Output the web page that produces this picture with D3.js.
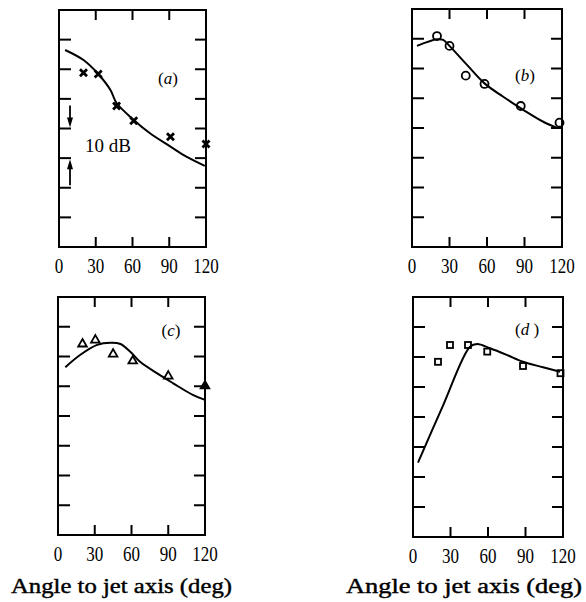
<!DOCTYPE html>
<html>
<head>
<meta charset="utf-8">
<script src="https://cdn.jsdelivr.net/npm/d3@7"></script>
<style>
  body { margin: 0; background: #fff; }
  svg { display: block; }
</style>
</head>
<body>
<div id="chart"></div>
<script>
// Axis ticks (angle in deg, level in dB, one tick step = 10 dB)
const angleTicks = [0, 30, 60, 90, 120];
const angleInnerTicks = [30, 60, 90];
const levelTicks = [10, 20, 30, 40, 50, 60, 70];

// (a) crosses + fitted curve
const aAngles = [20, 32, 47, 61, 91, 120];
const aLevels = [58.8, 58.4, 47.6, 42.6, 37.2, 34.8];
const aCurveAngles = [5, 20, 32, 42, 47, 61, 74, 91, 104, 119];
const aCurveLevels = [66.5, 63.1, 58.4, 53.0, 48.6, 42.9, 38.5, 33.9, 30.5, 27.4];

// (b) circles
const bAngles = [20, 30, 43, 58, 87, 118];
const bLevels = [70.9, 67.6, 57.6, 54.8, 47.4, 41.8];
const bCurveAngles = [4, 20, 25, 30, 44, 58, 73, 89, 105, 117];
const bCurveLevels = [67.6, 69.8, 69.6, 67.6, 61.2, 55.0, 50.5, 46.1, 42.1, 39.9];

// (c) triangles (last one filled)
const cAngles = [20, 30.5, 45, 61, 90, 120];
const cLevels = [64.2, 65.5, 60.8, 58.5, 53.4, 50.1];
const cCurveAngles = [6, 18, 32, 43, 51, 59, 67, 81, 94, 110, 120];
const cCurveLevels = [56.4, 60.5, 63.9, 64.6, 64.2, 61.6, 58.2, 54.3, 51.0, 47.1, 45.4];

// (d) squares
const dAngles = [20, 29.6, 44, 59.4, 88, 118];
const dLevels = [58.4, 64, 64, 61.8, 57.0, 54.6];
const dCurveAngles = [4, 24, 45.6, 51.4, 61.6, 75, 88, 104, 117.6];
const dCurveLevels = [24.8, 43.8, 63.4, 64.3, 62.9, 60.7, 58.4, 56.6, 55.1];

const width = 586;
const height = 602;
const serif = "Liberation Serif";

const svg = d3.select("#chart")
              .append("svg")
              .attr("width", width)
              .attr("height", height);

const panels = [
    { label: "a", left: 59, right: 206, top: 10, bottom: 247, marker: "cross",
      angles: aAngles, levels: aLevels, curveAngles: aCurveAngles, curveLevels: aCurveLevels,
      labelX: 168, labelY: 84 },
    { label: "b", left: 412, right: 562, top: 9, bottom: 247, marker: "circle",
      angles: bAngles, levels: bLevels, curveAngles: bCurveAngles, curveLevels: bCurveLevels,
      labelX: 525, labelY: 81 },
    { label: "c", left: 58, right: 205, top: 297, bottom: 535, marker: "triangle",
      angles: cAngles, levels: cLevels, curveAngles: cCurveAngles, curveLevels: cCurveLevels,
      labelX: 171, labelY: 336 },
    { label: "d", left: 413, right: 563, top: 297, bottom: 537, marker: "square",
      angles: dAngles, levels: dLevels, curveAngles: dCurveAngles, curveLevels: dCurveLevels,
      labelX: 527, labelY: 335 }
];

panels.forEach(p => {
    const x = d3.scaleLinear().domain([0, 120]).range([p.left, p.right]);
    const y = d3.scaleLinear().domain([0, 80]).range([p.bottom, p.top]);
    const g = svg.append("g");

    // frame
    g.append("rect")
     .attr("x", p.left).attr("y", p.top)
     .attr("width", p.right - p.left).attr("height", p.bottom - p.top)
     .attr("fill", "none").attr("stroke", "#000").attr("stroke-width", 2);

    // inward ticks on all four sides
    g.selectAll(".ytickL").data(levelTicks).enter().append("line")
     .attr("x1", p.left).attr("x2", p.left + 12)
     .attr("y1", d => y(d)).attr("y2", d => y(d))
     .attr("stroke", "#000").attr("stroke-width", 2);
    g.selectAll(".ytickR").data(levelTicks).enter().append("line")
     .attr("x1", p.right).attr("x2", p.right - 11)
     .attr("y1", d => y(d)).attr("y2", d => y(d))
     .attr("stroke", "#000").attr("stroke-width", 2);
    g.selectAll(".xtickT").data(angleInnerTicks).enter().append("line")
     .attr("x1", d => x(d)).attr("x2", d => x(d))
     .attr("y1", p.top).attr("y2", p.top + 10)
     .attr("stroke", "#000").attr("stroke-width", 2);
    g.selectAll(".xtickB").data(angleInnerTicks).enter().append("line")
     .attr("x1", d => x(d)).attr("x2", d => x(d))
     .attr("y1", p.bottom).attr("y2", p.bottom - 10)
     .attr("stroke", "#000").attr("stroke-width", 2);

    // tick labels (tall, narrow digits)
    g.selectAll(".xlab").data(angleTicks).enter().append("text")
     .attr("transform", d => `translate(${x(d)},${p.bottom + 26}) scale(0.85,1)`)
     .attr("text-anchor", "middle")
     .style("font-family", serif).style("font-size", "20px")
     .text(d => d);

    // fitted curve
    const curveData = p.curveAngles.map((a, i) => [a, p.curveLevels[i]]);
    g.append("path")
     .datum(curveData)
     .attr("d", d3.line().x(d => x(d[0])).y(d => y(d[1])).curve(d3.curveCatmullRom))
     .attr("fill", "none").attr("stroke", "#000").attr("stroke-width", 2);

    // measured points
    const pts = p.angles.map((a, i) => ({ a: a, v: p.levels[i], last: i === p.angles.length - 1 }));
    const m = g.selectAll(".pt").data(pts).enter().append("g")
               .attr("transform", d => `translate(${x(d.a)},${y(d.v)})`);
    if (p.marker === "cross") {
        m.append("path").attr("d", "M-3.5,-3.5L3.5,3.5M-3.5,3.5L3.5,-3.5")
         .attr("stroke", "#000").attr("stroke-width", 2.8);
    } else if (p.marker === "circle") {
        m.append("circle").attr("r", 4)
         .attr("fill", "none").attr("stroke", "#000").attr("stroke-width", 1.8);
    } else if (p.marker === "triangle") {
        m.append("path").attr("d", d3.symbol().type(d3.symbolTriangle).size(32))
         .attr("fill", d => d.last ? "#000" : "none")
         .attr("stroke", "#000").attr("stroke-width", 1.8);
    } else {
        m.append("rect").attr("x", -3).attr("y", -3).attr("width", 6).attr("height", 6)
         .attr("fill", "none").attr("stroke", "#000").attr("stroke-width", 1.8);
    }

    // panel label, e.g. (a)
    const lab = g.append("text")
                 .attr("x", p.labelX).attr("y", p.labelY)
                 .attr("text-anchor", "middle")
                 .style("font-family", serif).style("font-size", "17px");
    lab.append("tspan").text("(");
    lab.append("tspan").style("font-style", "italic").text(p.label === "d" ? "d " : p.label);
    lab.append("tspan").text(")");

    // 10 dB scale marker in panel (a)
    if (p.label === "a") {
        const ax = p.left + 11;
        g.append("line").attr("x1", ax).attr("x2", ax)
         .attr("y1", y(40) - 23).attr("y2", y(40) - 8)
         .attr("stroke", "#000").attr("stroke-width", 1.8);
        g.append("path")
         .attr("d", `M${ax - 3},${y(40) - 11}L${ax + 3},${y(40) - 11}L${ax},${y(40) - 1}Z`)
         .attr("fill", "#000");
        g.append("line").attr("x1", ax).attr("x2", ax)
         .attr("y1", y(30) + 8).attr("y2", y(30) + 27)
         .attr("stroke", "#000").attr("stroke-width", 1.8);
        g.append("path")
         .attr("d", `M${ax - 3},${y(30) + 11}L${ax + 3},${y(30) + 11}L${ax},${y(30) + 1}Z`)
         .attr("fill", "#000");
        g.append("text")
         .attr("x", 108).attr("y", 152)
         .attr("text-anchor", "middle")
         .style("font-family", serif).style("font-size", "19px")
         .text("10 dB");
    }
});

// axis titles under each column
[[11, 232], [346, 582]].forEach(([x0, x1]) => {
    svg.append("text")
       .attr("x", x0).attr("y", 593)
       .attr("textLength", x1 - x0)
       .attr("lengthAdjust", "spacingAndGlyphs")
       .style("font-family", serif).style("font-size", "20px")
       .style("stroke", "#000").style("stroke-width", 0.4)
       .text("Angle to jet axis (deg)");
});
</script>
</body>
</html>
